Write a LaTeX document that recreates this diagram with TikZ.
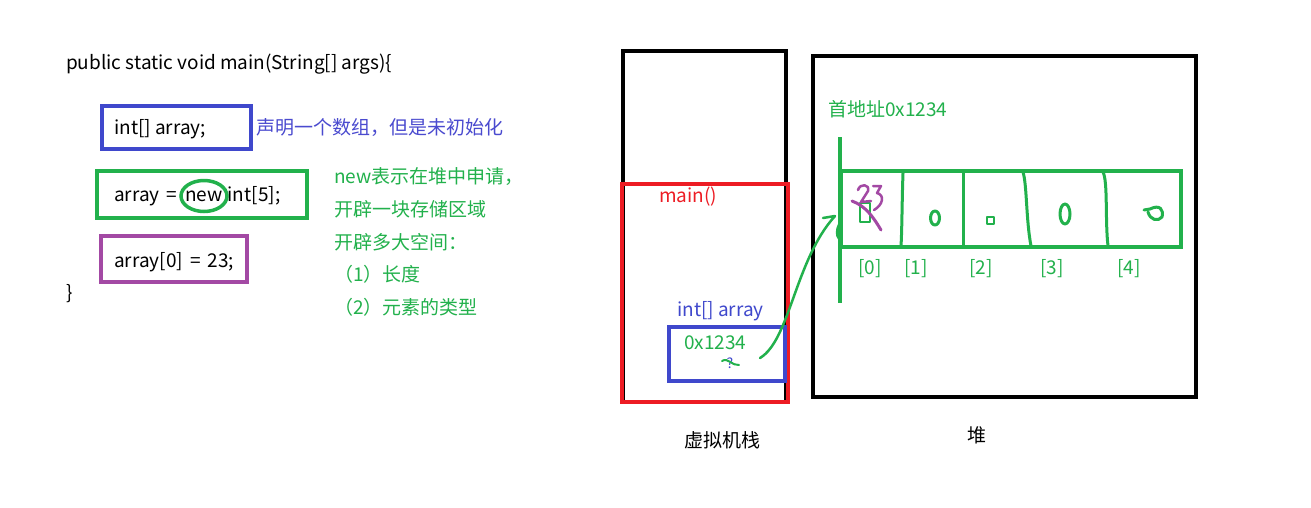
\documentclass[tikz,border=0pt]{standalone}
\usepackage{fontspec}
\setmainfont{Noto Sans CJK SC}
\usetikzlibrary{shapes.geometric}
\definecolor{pblue}{HTML}{3F48CC}
\definecolor{pgreen}{HTML}{22B14C}
\definecolor{pred}{HTML}{ED1C24}
\definecolor{ppurple}{HTML}{A349A4}
\definecolor{nblue}{HTML}{4A4ACF}
\begin{document}
\begin{tikzpicture}[x=1pt,y=-1pt,
  txt/.style={inner sep=0pt,anchor=west,font=\fontsize{19}{22}\selectfont,text height=15pt,text depth=3pt},
  ctxt/.style={txt,anchor=center},
  box/.style={draw,line width=4pt,inner sep=0pt,minimum width=#1},
  hand/.style={pgreen,line width=3pt,line cap=round,line join=round},
]
\useasboundingbox (0,0) rectangle (1311,507);
\fill[white] (0,0) rectangle (1311,507);

% ---- left: code ----
\node[txt] (sig) at (66,63) {public static void main(String[] args)\{};
\node[box=149,draw=pblue,minimum height=43] (declbox) at (176.5,127.5) {};
\node[txt] (decl) at (114,128) {int[] array;};
\node[txt,text=nblue] (declnote) at (256,128) {声明一个数组，但是未初始化};

\node[box=210,draw=pgreen,minimum height=47] (newbox) at (202,194.5) {};
\node[txt] (newl) at (114,195) {array\hspace{7pt}=\hspace{8pt}new\hspace{5pt}int[5];};
\node[ellipse,draw=pgreen,line width=3.5pt,minimum width=46,minimum height=31,inner sep=0pt] (newring) at (204,196) {};

\node[box=146,draw=ppurple,minimum height=46] (setbox) at (174,259) {};
\node[txt] (setl) at (114,261) {array[0]\hspace{7pt}=\hspace{7pt}23;};
\node[txt] (close) at (66,293) {\}};

\node[txt,text=pgreen] (n1) at (334,177) {new表示在堆中申请，};
\node[txt,text=pgreen] (n2) at (334,210) {开辟一块存储区域};
\node[txt,text=pgreen] (n3) at (334,243) {开辟多大空间：};
\node[txt,text=pgreen] (n4) at (334,275) {（1）长度};
\node[txt,text=pgreen] (n5) at (334,308) {（2）元素的类型};

% ---- stack ----
\node[box=163,draw=black,minimum height=351] (stack) at (704.5,226.5) {};
\node[box=166,draw=pred,minimum height=218] (frame) at (705,293) {};
\node[txt,text=pred] (mainlbl) at (659,196) {main()};
\node[txt,text=pblue] (varlbl) at (677,310) {int[] array};
\node[box=116,draw=pblue,minimum height=54] (var) at (727,354) {};
\node[txt,text=pgreen] (addr) at (684,343) {0x1234};
\node[ctxt,text=pblue,font=\fontsize{14}{15}\selectfont] (q) at (730,362) {?};
\draw[pgreen,line width=2pt,line cap=round] (722,361) .. controls (728,357) and (732,366) .. (739,365);
\node[ctxt] (stacklbl) at (722,441) {虚拟机栈};

% ---- heap ----
\node[box=383,draw=black,minimum height=341] (heap) at (1004.5,226.5) {};
\node[txt,text=pgreen] (first) at (828,110) {首地址0x1234};
\node[box=340,draw=pgreen,minimum height=76] (arr) at (1011,209) {};
\draw[pgreen,line width=4pt] (840,137) -- (840,303);
% dividers
\draw[hand] (903,173) .. controls (902,200) and (902,230) .. (901,246);
\draw[hand] (963,172) -- (963,247);
\draw[hand] (1023,172) .. controls (1027,185) and (1026,220) .. (1031,246);
\draw[hand] (1103,172) .. controls (1108,182) and (1105,220) .. (1108,246);
% cell contents
\draw[hand,line width=2.5pt] (860,203) rectangle (870,222);
\draw[ppurple,line width=2.5pt,line cap=round,line join=round]
  (858,190) .. controls (860,183) and (870,184) .. (868,191) -- (861,202) -- (871,201)
  (873,186) -- (881,186) -- (877,193) .. controls (885,195) and (883,205) .. (874,210);
\draw[ppurple,line width=3pt,line cap=round] (852,201) .. controls (865,206) and (872,215) .. (881,230);
\draw[hand] (935,218) ellipse (4.5 and 7);
\draw[hand,line width=2.5pt] (987,217) rectangle (994,224);
\draw[hand] (1065,214) ellipse (5 and 10);
\draw[hand] (1144,210) -- (1150,209) .. controls (1160,204) and (1164,210) .. (1162,217) .. controls (1158,222) and (1150,220) .. (1148,212);
% labels
\node[ctxt,text=pgreen] (i0) at (870,268) {[0]};
\node[ctxt,text=pgreen] (i1) at (916,268) {[1]};
\node[ctxt,text=pgreen] (i2) at (981,268) {[2]};
\node[ctxt,text=pgreen] (i3) at (1052,268) {[3]};
\node[ctxt,text=pgreen] (i4) at (1129,268) {[4]};
\node[ctxt] (heaplbl) at (977,436) {堆};

% ---- pointer ----
\coordinate (ptr) at (760,358);
\coordinate (hook) at (835,216);
\draw[hand,line width=2.5pt] (ptr) .. controls (790,340) and (795,260) .. (hook);
\draw[hand,line width=2.5pt] (823,218) -- (hook);
\draw[hand,line width=2pt] (839,224) .. controls (836,230) and (836,236) .. (839,239);
\end{tikzpicture}
\end{document}
